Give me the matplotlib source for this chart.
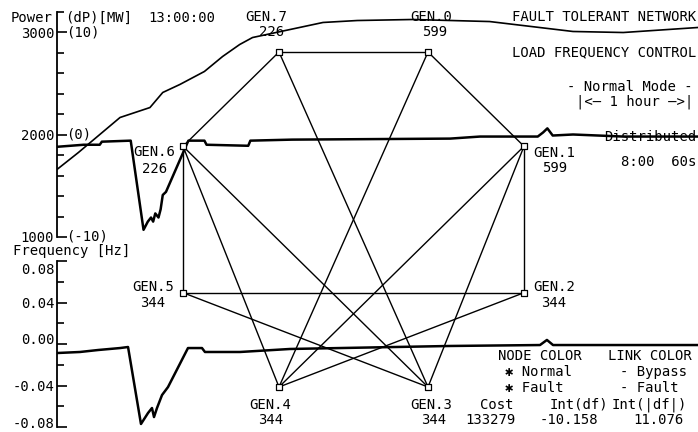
"""Fault tolerant network / load frequency control screen, redrawn with matplotlib."""

import matplotlib

matplotlib.use("Agg")
import matplotlib.pyplot as plt
import numpy as np
from matplotlib.collections import LineCollection
from matplotlib.transforms import ScaledTranslation, blended_transform_factory

# --------------------------------------------------------------------------- #
# Data (time in minutes across the 1 hour window)
# --------------------------------------------------------------------------- #
load_t = [0.0, 2.0, 5.9, 8.7, 9.9, 11.5, 13.8, 15.5, 17.1, 18.3, 21.8, 24.9,
          28.1, 33.3, 40.5, 48.3, 53.0, 60.0]
load_mw = [1659, 1824, 2166, 2263, 2410, 2488, 2615, 2761, 2878, 2946, 3024,
           3093, 3112, 3122, 3102, 3005, 2995, 3044]

dp_t = [0.0, 2.5, 4.0, 4.2, 6.9, 8.1, 8.5, 8.8, 9.0, 9.2, 9.5, 9.7, 9.9, 10.2,
        12.0, 12.3, 13.8, 14.0, 17.9, 18.1, 22.0, 36.8, 39.6, 45.0, 45.5, 45.9,
        46.4, 48.3, 53.0, 60.0]
dp_val = [-1.2, -1.0, -1.0, -0.7, -0.6, -9.3, -8.5, -8.1, -8.5, -7.7, -8.1,
          -7.3, -5.9, -5.6, -1.3, -0.6, -0.6, -1.0, -1.1, -0.6, -0.5, -0.4,
          -0.2, -0.2, 0.2, 0.6, -0.1, 0.0, -0.2, -0.2]

freq_t = [0.0, 2.15, 3.84, 5.90, 6.65, 7.86, 8.52, 8.89, 9.08, 9.36, 9.83,
          10.39, 12.26, 13.57, 13.85, 17.13, 21.81, 36.79, 45.21, 45.86, 46.43,
          60.0]
freq_hz = [-0.0087, -0.0077, -0.0058, -0.0039, -0.0029, -0.0771, -0.0665,
           -0.0617, -0.0704, -0.0617, -0.0492, -0.0415, -0.0039, -0.0039,
           -0.0077, -0.0077, -0.0048, -0.0019, -0.0010, 0.0039, -0.0010,
           -0.0010]

power_ticks = [1000, 2000, 3000]
dp_tick_labels = ["(-10)", "(0)", "(10)"]
freq_ticks = [-0.08, -0.04, 0.00, 0.04, 0.08]
freq_tick_labels = ["-0.08", "-0.04", "0.00", "0.04", "0.08"]

gen_names = ["GEN.0", "GEN.1", "GEN.2", "GEN.3", "GEN.4", "GEN.5", "GEN.6", "GEN.7"]
gen_output = [599, 599, 344, 344, 344, 344, 226, 226]
links = [(7, 0), (7, 6), (0, 1), (6, 5), (1, 2), (5, 2), (7, 3), (0, 4),
         (6, 4), (6, 3), (1, 4), (1, 3), (5, 3), (2, 4)]

cost = 133279
int_df = -10.158
int_abs_df = 11.076

# --------------------------------------------------------------------------- #
# Layout helpers (pixel space of a 698x432 screen)
# --------------------------------------------------------------------------- #
W_PX, H_PX = 698, 432
FS = 10
plt.rcParams["font.family"] = ["DejaVu Sans Mono", "DejaVu Sans"]
plt.rcParams["font.size"] = FS


def px_box(left, top, right, bottom):
    return [left / W_PX, 1 - bottom / H_PX, (right - left) / W_PX, (bottom - top) / H_PX]


def style_axis(ax):
    ax.set_facecolor("none")
    for side in ("top", "right", "bottom"):
        ax.spines[side].set_visible(False)
    ax.spines["left"].set_linewidth(1.3)
    ax.set_xticks([])
    ax.set_xlim(0, 60)
    ax.tick_params(axis="y", which="major", direction="in", length=7, width=1.2, pad=2, labelsize=FS)  # fmt: skip
    ax.tick_params(axis="y", which="minor", direction="in", length=5, width=1.2)


fig = plt.figure(figsize=(W_PX / 100, H_PX / 100), dpi=100)
fig.patch.set_facecolor("white")

# power panel: 1000..3200 MW, dP shares it as 2000 + 100*dP
ax_p = fig.add_axes(px_box(57, 11.5, W_PX, 237))
style_axis(ax_p)
ax_p.set_ylim(1000, 3200)
ax_p.set_yticks(power_ticks, [str(v) for v in power_ticks])
ax_p.set_yticks(np.arange(1200, 3201, 200), minor=True)
ax_p.plot(load_t, load_mw, color="black", lw=1.2)
ax_p.plot(dp_t, 2000 + 100 * np.array(dp_val), color="black", lw=1.8)
tr = blended_transform_factory(ax_p.transAxes, ax_p.transData)
for v, lab in zip(power_ticks, dp_tick_labels):
    ax_p.text(9 / 641, v, lab, transform=tr, ha="left", va="center", fontsize=FS)

# frequency panel
ax_f = fig.add_axes(px_box(57, 261, W_PX, 427))
style_axis(ax_f)
ax_f.set_ylim(-0.08, 0.08)
ax_f.set_yticks(freq_ticks, freq_tick_labels)
ax_f.set_yticks([-0.06, -0.02, 0.02, 0.06], minor=True)
ax_f.plot(freq_t, freq_hz, color="black", lw=1.8)
# the screen prints the end labels just inside the axis span
for lab, dy_px in zip(ax_f.get_yticklabels(), [5, 0, 5, 0, -8]):
    lab.set_transform(lab.get_transform() + ScaledTranslation(0, dy_px / 100, fig.dpi_scale_trans))  # fmt: skip

# overlay in screen pixels: network + captions
ax_n = fig.add_axes([0, 0, 1, 1])
ax_n.set_facecolor("none")
ax_n.set_xlim(0, W_PX)
ax_n.set_ylim(H_PX, 0)
ax_n.set_axis_off()

# irregular octagon: half-box 170.5 x 167.5 with corners cut to 0.437
cx, cy, half_w, half_h, cut = 353.5, 219.5, 170.5, 167.5, 0.437
node_x = cx + half_w * np.array([cut, 1, 1, cut, -cut, -1, -1, -cut])
node_y = cy + half_h * np.array([-1, -cut, cut, 1, 1, cut, -cut, -1])
pts = np.column_stack([node_x, node_y])

ax_n.add_collection(LineCollection(pts[np.array(links)], colors="black", linewidths=1.0, zorder=2))  # fmt: skip
ax_n.scatter(node_x, node_y, marker="s", s=20, facecolor="white", edgecolor="black", linewidths=0.9, zorder=3)  # fmt: skip

# label offsets (name, value) from each node, pixels
label_off = [((3, -35), (7, -20)), ((30, 7), (31, 22)), ((30, -6), (30, 10)),
             ((3, 18), (6, 33)), ((-9, 18), (-8, 33)), ((-30, -6), (-30, 10)),
             ((-29, 6), (-28, 23)), ((-13, -35), (-7, -20))]
for (x, y), name, val, (o_name, o_val) in zip(pts, gen_names, gen_output, label_off):
    ax_n.text(x + o_name[0], y + o_name[1], name, ha="center", va="center", fontsize=FS)  # fmt: skip
    ax_n.text(x + o_val[0], y + o_val[1], str(val), ha="center", va="center", fontsize=FS)  # fmt: skip


def put(x, y, s, ha="left"):
    ax_n.text(x, y, s, ha=ha, va="center", fontsize=FS)


put(53, 18, "Power", ha="right")
put(65, 18, "(dP)[MW]")
put(148, 18, "13:00:00")
put(13, 251, "Frequency [Hz]")

put(696, 17, "FAULT TOLERANT NETWORK", ha="right")
put(696, 52, "LOAD FREQUENCY CONTROL", ha="right")
put(693, 87, "- Normal Mode -", ha="right")
put(693, 102, "|<— 1 hour —>|", ha="right")
put(696, 137, "Distributed", ha="right")
put(696, 162, "8:00  60s", ha="right")

put(498, 356, "NODE COLOR")
put(608, 356, "LINK COLOR")
put(505, 372, "✱ Normal")
put(505, 388, "✱ Fault")
put(620, 372, "- Bypass")
put(620, 388, "- Fault")
put(480, 405, "Cost")
put(465, 420, str(cost))
put(550, 405, "Int(df)")
put(540, 420, f"{int_df:.3f}")
put(612, 405, "Int(|df|)")
put(633, 420, f"{int_abs_df:.3f}")

fig.savefig("out.png", dpi=100)
plt.close(fig)
